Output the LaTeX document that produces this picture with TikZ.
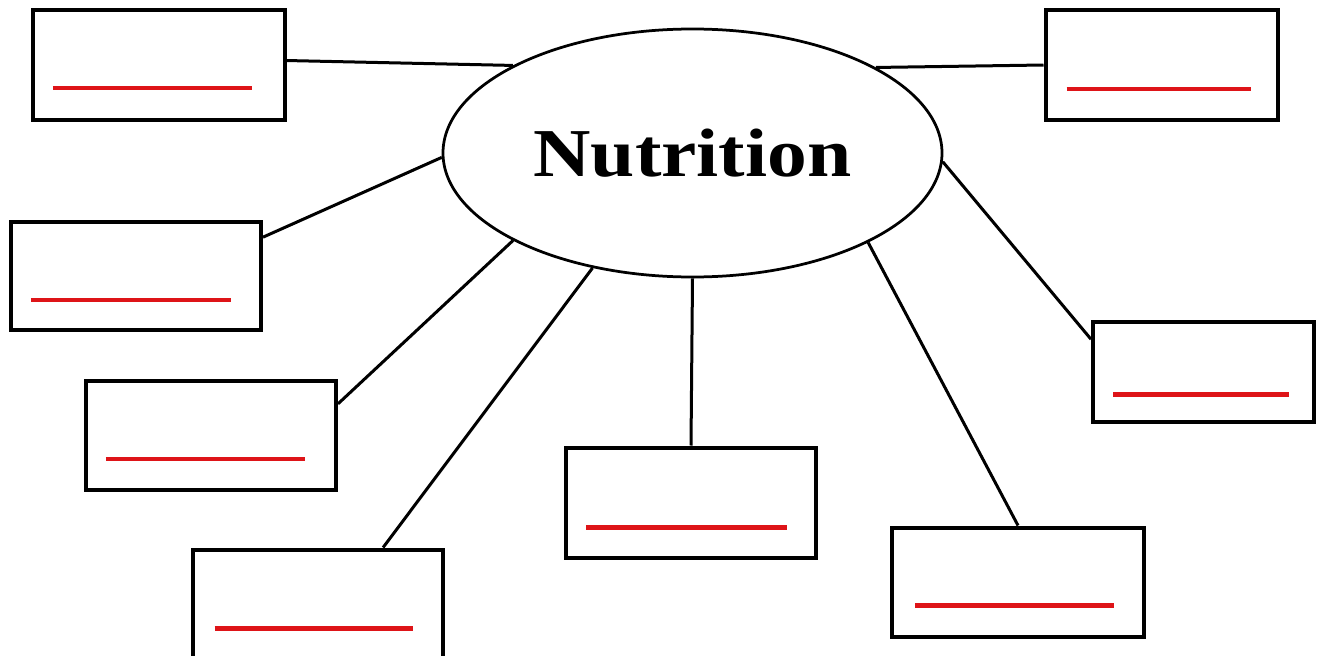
\documentclass[tikz,border=0pt]{standalone}
\usepackage{fontspec}
\newfontfamily\hubfont[FakeStretch=1.16]{Liberation Serif}
\usetikzlibrary{shapes.geometric,calc}
\definecolor{blankred}{RGB}{222,20,24}

\begin{document}
\begin{tikzpicture}[x=0.2mm,y=-0.2mm,
	hub/.style={draw,ellipse,line width=0.55mm,minimum width=99.8mm,minimum height=49.6mm,inner sep=0pt,font={\hubfont\bfseries\fontsize{39}{41}\selectfont}},
	slot/.style={draw,rectangle,line width=0.8mm,minimum width=50mm,minimum height=22mm,inner sep=0pt},
	spoke/.style={line width=0.6mm},
	blank/.style={draw=blankred,line width=0.9mm}]
	\useasboundingbox (0,0) rectangle (1322,656);
	\node[hub] (N) at (692.5,153) {Nutrition};
	% the empty boxes
	\node[slot,minimum width=50.4mm] (b1) at (159,65) {};
	\node[slot,minimum width=46.4mm] (b2) at (1161.5,65) {};
	\node[slot,minimum height=21.6mm] (b3) at (136,276) {};
	\node[slot,minimum height=21.8mm] (b4) at (211,435.5) {};
	\node[slot] (b5) at (317.5,604.5) {};
	\node[slot] (b6) at (691,502.5) {};
	\node[slot,minimum width=50.4mm,minimum height=21.8mm] (b7) at (1018,582) {};
	\node[slot,minimum width=44.2mm,minimum height=20mm] (b8) at (1203.5,371.5) {};
	% spokes
	\draw[spoke] (b1.2) -- (N.154);
	\draw[spoke] (b2.west) -- (N.25);
	\draw[spoke] (b3.17) -- (N.181);
	\draw[spoke] (b4.14) -- (N.206);
	\draw[spoke] (b5.41) -- (N.229);
	\draw[spoke] (b6.north) -- (N.south);
	\draw[spoke] (b7.north) -- (N.333);
	\draw[spoke] (b8.164) -- (N.358);
	% red blanks
	\draw[blank] ($(b1.south west)+(22,-34)$) -- ($(b1.south east)+(-35,-34)$);
	\draw[blank] ($(b2.south west)+(23,-33)$) -- ($(b2.south east)+(-29,-33)$);
	\draw[blank] ($(b3.south west)+(22,-32)$) -- ($(b3.south east)+(-32,-32)$);
	\draw[blank] ($(b4.south west)+(22,-33)$) -- ($(b4.south east)+(-33,-33)$);
	\draw[blank] ($(b5.south west)+(24,-33)$) -- ($(b5.south east)+(-32,-33)$);
	\draw[blank] ($(b6.south west)+(22,-32)$) -- ($(b6.south east)+(-31,-32)$);
	\draw[blank] ($(b7.south west)+(25,-33)$) -- ($(b7.south east)+(-32,-33)$);
	\draw[blank] ($(b8.south west)+(22,-29)$) -- ($(b8.south east)+(-27,-29)$);
\end{tikzpicture}
\end{document}
